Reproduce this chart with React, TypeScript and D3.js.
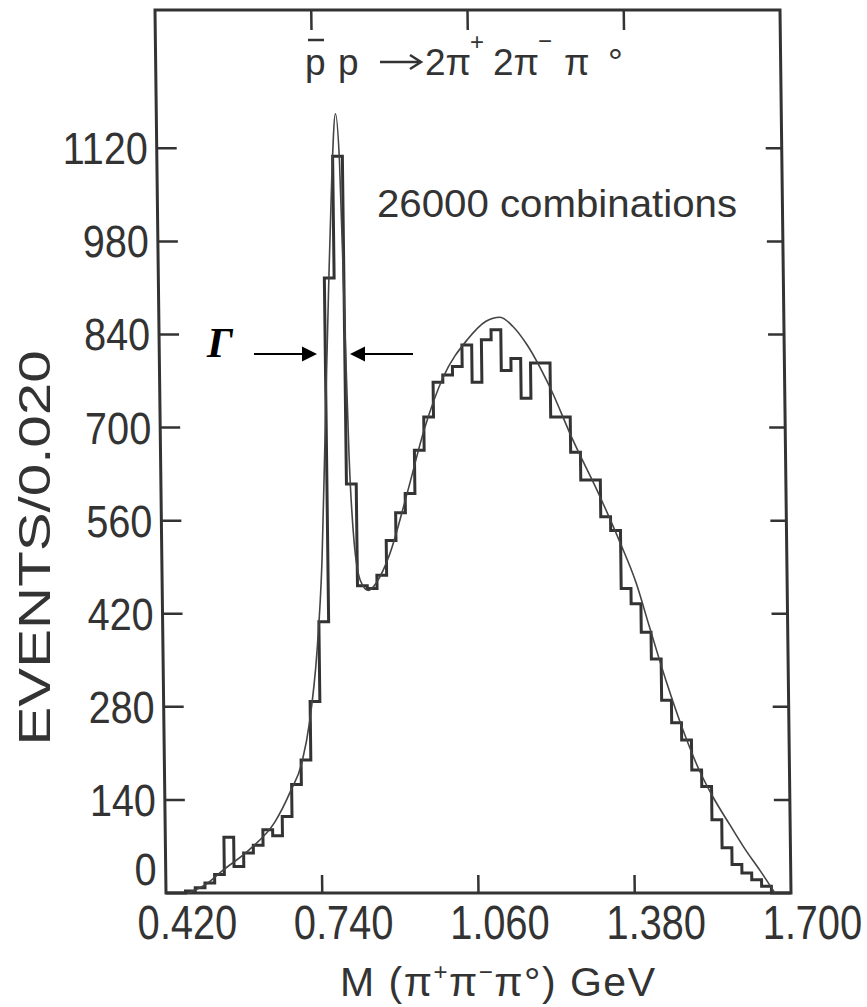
import React from 'react';
import * as d3 from 'd3';

// ---- data ----
const binStart = 0.42;
const binWidth = 0.02;
// events per 0.020 GeV bin, bins from 0.420 to 1.700 GeV
const counts = [
  0, 0, 3, 8, 15, 28, 84, 40, 60, 72,
  95, 86, 115, 163, 200, 288, 408, 925, 1108, 615,
  462, 458, 478, 530, 572, 601, 666, 716, 768, 779,
  792, 824, 768, 832, 847, 786, 804, 744, 797, 797,
  716, 716, 663, 621, 621, 566, 545, 458, 435, 392,
  352, 290, 256, 230, 185, 160, 110, 68, 43, 30,
  20, 10, 0, 0,
];
// fitted curve, read as (mass GeV, events)
const fitMass = [
  0.465, 0.5, 0.535, 0.593, 0.645, 0.677, 0.702, 0.719, 0.735, 0.748,
  0.758, 0.768, 0.778, 0.787, 0.794, 0.8, 0.806, 0.814, 0.826, 0.842,
  0.86, 0.887, 0.924, 0.962, 1.001, 1.051, 1.09, 1.119, 1.145, 1.173,
  1.219, 1.265, 1.319, 1.36, 1.39, 1.417, 1.45, 1.483, 1.515, 1.543,
  1.577, 1.607, 1.637, 1.667,
];
const fitEvents = [
  0, 12, 33, 66, 107, 152, 197, 260, 360, 500,
  700, 900, 1080, 1172, 1100, 880, 660, 530, 470, 455,
  468, 510, 601, 700, 776, 832, 860, 866, 852, 825,
  761, 681, 596, 525, 468, 400, 318, 245, 185, 144,
  102, 66, 34, 0,
];
const yTicks = [0, 140, 280, 420, 560, 700, 840, 980, 1120];
const yTickLabels = ['0', '140', '280', '420', '560', '700', '840', '980', '1120'];
const xTicks = [0.42, 0.74, 1.06, 1.38, 1.7];
const xTickLabels = ['0.420', '0.740', '1.060', '1.380', '1.700'];

const INK = '#333';

export default function App() {
  const W = 867;
  const H = 1007;
  const left = 166, right = 791, top = 10, bottom = 893;
  const x = d3.scaleLinear().domain([0.42, 1.7]).range([left, right]);
  const y = d3.scaleLinear().domain([0, 1328]).range([bottom, top]);

  const histPts: [number, number][] = [];
  counts.forEach((c, i) => {
    const a = binStart + i * binWidth;
    histPts.push([a, c], [a + binWidth, c]);
  });
  const histLine = d3.line<[number, number]>().x(d => x(d[0])).y(d => y(d[1]));
  const fitPts: [number, number][] = fitMass.map((m, i) => [m, fitEvents[i]]);
  const fitLine = d3
    .line<[number, number]>()
    .x(d => x(d[0]))
    .y(d => y(d[1]))
    .curve(d3.curveMonotoneX);

  const shear = `translate(0,${bottom}) skewX(0.714) translate(0,${-bottom})`;
  const inner = [0.74, 1.06, 1.38];

  return (
    <svg
      width={W}
      height={H}
      viewBox={`0 0 ${W} ${H}`}
      style={{ position: 'absolute', left: 0, top: 0, background: '#fff', display: 'block' }}
      fontFamily="'Liberation Sans', Arial, sans-serif"
    >
      <rect x={0} y={0} width={W} height={H} fill="#fff" />
      <g transform={shear}>
        {/* frame */}
        <rect
          x={left}
          y={top}
          width={right - left}
          height={bottom - top}
          fill="none"
          stroke={INK}
          strokeWidth={3}
        />
        {/* left & right ticks */}
        {yTicks.filter(v => v > 0).map(v => (
          <g key={'yt' + v} stroke={INK} strokeWidth={2.5}>
            <line x1={left} x2={left + 20} y1={y(v)} y2={y(v)} />
            <line x1={right - 16} x2={right} y1={y(v)} y2={y(v)} />
          </g>
        ))}
        {/* bottom & top ticks */}
        {inner.map(v => (
          <g key={'xt' + v} stroke={INK} strokeWidth={2.5}>
            <line x1={x(v)} x2={x(v)} y1={bottom} y2={bottom - 18} />
            <line x1={x(v)} x2={x(v)} y1={top} y2={top + 20} />
          </g>
        ))}
        {/* y tick labels */}
        {yTicks.map((v, i) => (
          <text
            key={'yl' + v}
            transform={`translate(${left - 9},${v === 0 ? y(v) - 8 : y(v) + 16}) scale(0.88,1)`}
            textAnchor="end"
            fontSize={45}
            fill={INK}
          >
            {yTickLabels[i]}
          </text>
        ))}
        {/* x tick labels */}
        {xTicks.map((v, i) => (
          <text
            key={'xl' + v}
            transform={`translate(${x(v) + 21},${bottom + 46}) scale(0.83,1)`}
            textAnchor="middle"
            fontSize={48}
            fill={INK}
          >
            {xTickLabels[i]}
          </text>
        ))}
        {/* histogram */}
        <path
          d={histLine(histPts) || ''}
          fill="none"
          stroke={INK}
          strokeWidth={3}
          strokeLinejoin="miter"
        />
        {/* fit */}
        <path d={fitLine(fitPts) || ''} fill="none" stroke="#444" strokeWidth={1.6} />
      </g>

      {/* title */}
      <g fill={INK} fontSize={37}>
        <text x={305} y={75}>p</text>
        <text x={338} y={75}>p</text>
        <line x1={308} x2={324} y1={40} y2={40} stroke={INK} strokeWidth={2.5} />
        <path d="M380,62 H419" stroke={INK} strokeWidth={2.5} fill="none" />
        <path d="M410,55 L421,62 L410,69" stroke={INK} strokeWidth={2.5} fill="none" />
        <text x={425} y={75}>2π</text>
        <text x={470} y={50} fontSize={24}>+</text>
        <text x={493} y={75}>2π</text>
        <text x={538} y={49} fontSize={24}>−</text>
        <text x={564} y={75}>π</text>
        <text x={608} y={75}>°</text>
      </g>

      <text x={377} y={217} fontSize={38} fill={INK} textLength={360} lengthAdjust="spacingAndGlyphs">
        26000 combinations
      </text>

      {/* axis titles */}
      <text
        transform="translate(50,548) rotate(-90)"
        textAnchor="middle"
        fontSize={44}
        fill={INK}
        textLength={395}
        lengthAdjust="spacingAndGlyphs"
      >
        EVENTS/0.020
      </text>
      <text x={340} y={996} fontSize={41} fill={INK} textLength={315} lengthAdjust="spacing">
        M (π<tspan dy={-16} fontSize={24}>+</tspan>
        <tspan dy={16}>π</tspan>
        <tspan dy={-16} fontSize={24}>−</tspan>
        <tspan dy={16}>π</tspan>
        <tspan>°) GeV</tspan>
      </text>

      {/* width annotation */}
      <text
        x={207}
        y={357}
        fontSize={43}
        fontWeight="bold"
        fontStyle="italic"
        fontFamily="'Liberation Serif', 'Times New Roman', serif"
        fill="#000"
      >
        Γ
      </text>
      <g stroke="#000" strokeWidth={2}>
        <line x1={254} x2={304} y1={354} y2={354} />
        <line x1={364} x2={413} y1={354} y2={354} />
      </g>
      <path d="M302,346.5 L317,354 L302,361.5 Z" fill="#000" />
      <path d="M365,346.5 L350,354 L365,361.5 Z" fill="#000" />
    </svg>
  );
}
